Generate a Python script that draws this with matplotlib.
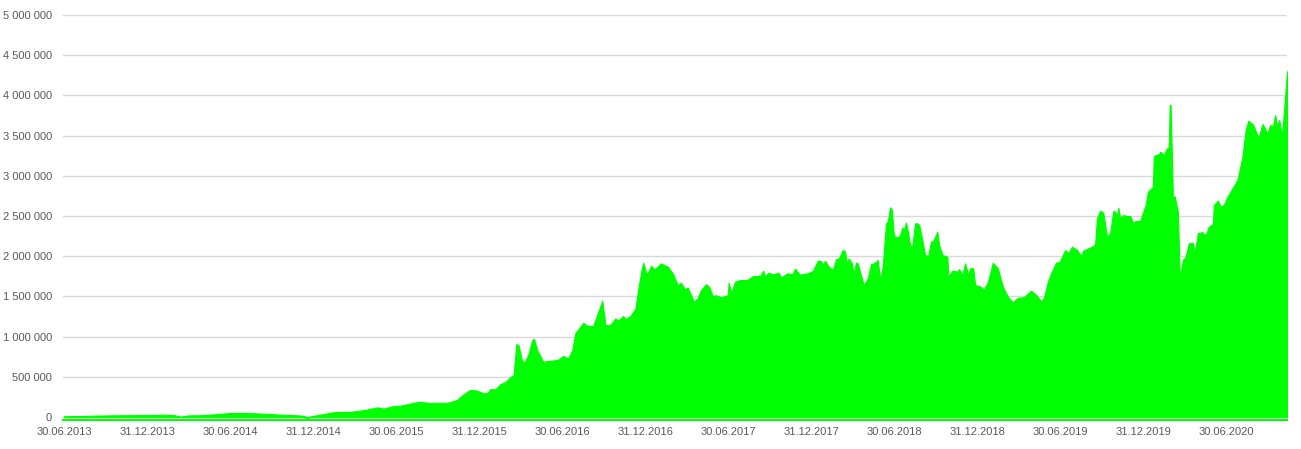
import matplotlib
matplotlib.use("Agg")
import matplotlib.pyplot as plt
import matplotlib.dates as mdates
from matplotlib.ticker import FuncFormatter
import pandas as pd

dates = [
    "2013-06-30", "2013-08-04", "2013-09-11", "2013-10-31", "2013-12-31",
    "2014-02-09", "2014-02-26", "2014-03-14", "2014-03-29", "2014-04-27", "2014-05-30", "2014-06-30",
    "2014-08-06", "2014-09-19", "2014-10-18", "2014-12-01", "2014-12-12", "2014-12-16", "2014-12-23", "2014-12-31",
    "2015-01-20", "2015-02-13", "2015-03-22", "2015-04-13", "2015-04-29", "2015-05-21", "2015-06-03", "2015-06-25",
    "2015-07-09", "2015-08-06", "2015-08-22", "2015-09-13", "2015-10-05", "2015-10-20", "2015-11-11", "2015-11-24",
    "2015-12-10", "2015-12-25",
    "2016-01-09", "2016-01-18", "2016-01-24", "2016-02-04", "2016-02-15", "2016-02-26", "2016-03-08", "2016-03-15",
    "2016-03-21", "2016-03-26", "2016-04-03", "2016-04-09", "2016-04-16", "2016-04-25", "2016-04-29", "2016-05-06",
    "2016-05-19", "2016-06-03", "2016-06-19",
    "2016-07-02", "2016-07-13", "2016-07-22", "2016-07-29", "2016-08-09", "2016-08-15", "2016-08-24", "2016-09-06",
    "2016-09-26", "2016-10-03", "2016-10-14", "2016-10-25", "2016-10-31", "2016-11-11", "2016-11-16", "2016-11-27",
    "2016-12-08", "2016-12-14", "2016-12-21", "2016-12-25",
    "2017-01-02", "2017-01-11", "2017-01-20", "2017-02-02", "2017-02-17", "2017-02-28", "2017-03-11", "2017-03-18",
    "2017-03-27", "2017-04-02", "2017-04-16", "2017-04-24", "2017-05-01", "2017-05-12", "2017-05-19", "2017-05-27",
    "2017-06-03", "2017-06-14", "2017-06-29",
    "2017-07-01", "2017-07-07", "2017-07-15", "2017-07-26", "2017-08-11", "2017-08-24", "2017-09-08", "2017-09-15",
    "2017-09-19", "2017-09-26", "2017-10-07", "2017-10-18", "2017-10-25", "2017-11-07", "2017-11-18", "2017-11-24",
    "2017-12-05", "2017-12-21",
    "2018-01-02", "2018-01-13", "2018-01-20", "2018-01-24", "2018-01-29", "2018-02-06", "2018-02-15", "2018-02-22",
    "2018-02-28", "2018-03-09", "2018-03-14", "2018-03-18", "2018-03-22", "2018-03-29", "2018-04-02", "2018-04-07",
    "2018-04-11", "2018-04-18", "2018-04-24", "2018-05-03", "2018-05-10", "2018-05-16", "2018-05-21", "2018-05-25",
    "2018-05-30", "2018-06-05", "2018-06-12", "2018-06-16", "2018-06-21", "2018-06-25", "2018-06-29",
    "2018-07-02", "2018-07-09", "2018-07-13", "2018-07-18", "2018-07-22", "2018-07-26", "2018-07-31", "2018-08-04",
    "2018-08-09", "2018-08-15", "2018-08-20", "2018-08-24", "2018-08-31", "2018-09-06", "2018-09-13", "2018-09-19",
    "2018-09-24", "2018-10-03", "2018-10-07", "2018-10-14", "2018-10-25", "2018-10-27", "2018-11-05", "2018-11-16",
    "2018-11-20", "2018-11-27", "2018-12-03", "2018-12-10", "2018-12-14", "2018-12-21", "2018-12-25",
    "2019-01-07", "2019-01-13", "2019-01-22", "2019-02-02", "2019-02-13", "2019-02-24", "2019-03-07", "2019-03-18",
    "2019-03-29", "2019-04-11", "2019-04-27", "2019-05-08", "2019-05-19", "2019-05-25", "2019-06-03", "2019-06-10",
    "2019-06-21", "2019-06-29",
    "2019-07-11", "2019-07-18", "2019-07-26", "2019-08-06", "2019-08-15", "2019-08-20", "2019-09-11", "2019-09-15",
    "2019-09-19", "2019-09-26", "2019-10-03", "2019-10-11", "2019-10-18", "2019-10-25", "2019-10-29", "2019-11-02",
    "2019-11-05", "2019-11-09", "2019-11-16", "2019-11-24", "2019-12-01", "2019-12-08", "2019-12-12", "2019-12-23",
    "2020-01-04", "2020-01-09", "2020-01-20", "2020-01-22", "2020-02-02", "2020-02-06", "2020-02-13", "2020-02-20",
    "2020-02-24", "2020-02-26", "2020-02-28", "2020-03-04", "2020-03-08", "2020-03-15", "2020-03-17", "2020-03-19",
    "2020-03-26", "2020-04-01", "2020-04-08", "2020-04-17", "2020-04-21", "2020-04-28", "2020-05-07", "2020-05-15",
    "2020-05-22", "2020-05-31", "2020-06-02", "2020-06-11", "2020-06-17", "2020-06-24",
    "2020-07-02", "2020-07-13", "2020-07-24", "2020-08-04", "2020-08-11", "2020-08-17", "2020-08-28", "2020-09-08",
    "2020-09-17", "2020-09-24", "2020-09-28", "2020-10-04", "2020-10-10", "2020-10-15", "2020-10-19", "2020-10-24",
    "2020-10-30", "2020-11-04", "2020-11-10",
]

values_k = [
    10, 12, 18, 22, 25,
    28, 25, 5, 20, 22, 35, 50,
    50, 40, 30, 20, 10, -25, 5, 15,
    35, 60, 65, 80, 95, 120, 105, 137,
    140, 174, 190, 174, 178, 174, 211, 273,
    336, 330,
    294, 300, 348, 345, 410, 435, 497, 522,
    908, 890, 688, 690, 771, 958, 970, 833,
    688, 700, 709,
    759, 730, 833, 1048, 1123, 1173, 1135, 1132,
    1447, 1144, 1144, 1227, 1200, 1256, 1220, 1256,
    1352, 1580, 1820, 1919,
    1766, 1878, 1840, 1911, 1870, 1787, 1642, 1670,
    1588, 1610, 1434, 1480, 1580, 1650, 1620, 1505,
    1515, 1489, 1515,
    1670, 1540, 1683, 1704, 1704, 1754, 1754, 1820,
    1745, 1795, 1775, 1795, 1737, 1787, 1775, 1845,
    1770, 1787,
    1816, 1944, 1940, 1890, 1944, 1870, 1828, 1961,
    1970, 2077, 2060, 1911, 1974, 1911, 1779, 1919,
    1911, 1766, 1642, 1725, 1903, 1911, 1932, 1953,
    1704, 1878, 2409, 2430, 2608, 2580, 2285,
    2235, 2240, 2260, 2355, 2340, 2417, 2285, 2139,
    2120, 2409, 2409, 2390, 2201, 2015, 2005, 2181,
    2190, 2305, 2139, 2015, 1995, 1745, 1820, 1810,
    1840, 1766, 1911, 1766, 1850, 1850, 1642,
    1620, 1580, 1680, 1919, 1850, 1621, 1496, 1426,
    1484, 1490, 1571, 1520, 1440, 1480, 1683, 1787,
    1919, 1930,
    2077, 2040, 2118, 2080, 2003, 2070, 2127, 2150,
    2471, 2566, 2540, 2243, 2290, 2562, 2555, 2505,
    2604, 2479, 2512, 2500, 2500, 2409, 2436, 2440,
    2637, 2802, 2864, 3246, 3271, 3300, 3260, 3342,
    3360, 3881, 3881, 2740, 2745, 2554, 2160, 1725,
    1953, 1990, 2160, 2165, 2044, 2285, 2300, 2260,
    2367, 2400, 2637, 2691, 2616, 2637,
    2740, 2844, 2948, 3238, 3570, 3686, 3632, 3466,
    3644, 3570, 3529, 3632, 3610, 3756, 3620, 3694,
    3486, 3859, 4300,
]

tick_dates = ["2013-06-30", "2013-12-31", "2014-06-30", "2014-12-31", "2015-06-30",
              "2015-12-31", "2016-06-30", "2016-12-31", "2017-06-30", "2017-12-31",
              "2018-06-30", "2018-12-31", "2019-06-30", "2019-12-31", "2020-06-30"]
y_ticks = [0, 500000, 1000000, 1500000, 2000000, 2500000, 3000000, 3500000,
           4000000, 4500000, 5000000]

x = pd.to_datetime(dates)
y = [v * 1000 for v in values_k]

plt.rcParams['font.family'] = ['Liberation Sans', 'DejaVu Sans']

fig = plt.figure(figsize=(13.01, 4.49), dpi=100)
ax = fig.add_axes([63 / 1301, 1 - 420 / 449, (1287 - 63) / 1301, (420 - 15) / 449])

green = "#00FF00"
ax.fill_between(x, 0, y, color=green, linewidth=0.8, edgecolor=green, zorder=3)

ax.set_xlim(pd.Timestamp("2013-06-28"), pd.Timestamp("2020-11-10"))
ax.set_ylim(-37000, 5000000)

ax.set_yticks(y_ticks)
ax.yaxis.set_major_formatter(FuncFormatter(lambda v, p: f"{int(v):,}".replace(",", " ")))
ax.set_xticks(pd.to_datetime(tick_dates))
ax.set_xticklabels([pd.Timestamp(d).strftime("%d.%m.%Y") for d in tick_dates])

ax.grid(axis='y', color="#d9d9d9", linewidth=1.0, zorder=0)
ax.set_axisbelow(True)

for s in ["top", "right", "left"]:
    ax.spines[s].set_visible(False)
ax.spines["bottom"].set_color(green)
ax.spines["bottom"].set_linewidth(1.5)
ax.spines["bottom"].set_zorder(4)

ax.tick_params(axis='both', length=0, labelsize=8, labelcolor="#595959")
ax.tick_params(axis='y', pad=8)
ax.tick_params(axis='x', pad=5)

fig.savefig("out.png", dpi=100)
